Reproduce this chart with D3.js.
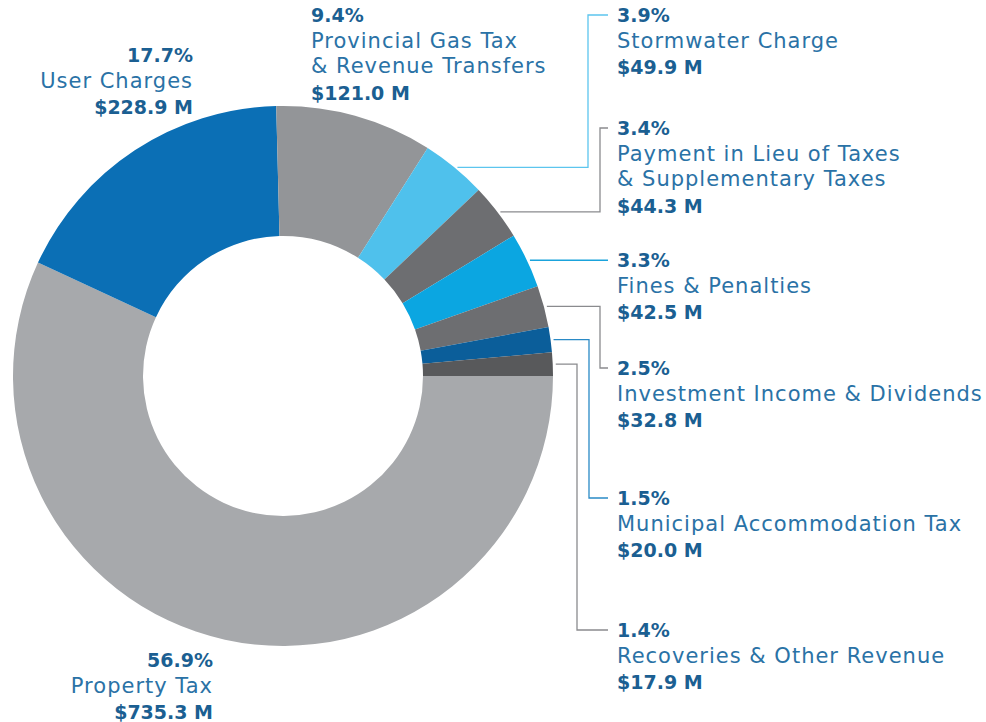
<!DOCTYPE html>
<html>
<head>
<meta charset="utf-8">
<script src="https://cdn.jsdelivr.net/npm/d3@7"></script>
<style>
  body { margin: 0; background: #fff; }
  svg text { font-family: "DejaVu Sans", sans-serif; }
  .pct, .amt { font-weight: bold; fill: #1b5f92; font-size: 19px; }
  .name { fill: #2a72a6; font-size: 21px; letter-spacing: 1px; }
</style>
</head>
<body>
<div id="chart"></div>
<script>
// revenue sources, in the order they are laid out clockwise from 3 o'clock
const categories = [
  ["Property Tax"],
  ["User Charges"],
  ["Provincial Gas Tax", "& Revenue Transfers"],
  ["Stormwater Charge"],
  ["Payment in Lieu of Taxes", "& Supplementary Taxes"],
  ["Fines & Penalties"],
  ["Investment Income & Dividends"],
  ["Municipal Accommodation Tax"],
  ["Recoveries & Other Revenue"]
];
const shares = [56.9, 17.7, 9.4, 3.9, 3.4, 3.3, 2.5, 1.5, 1.4];
const amounts = [735.3, 228.9, 121.0, 49.9, 44.3, 42.5, 32.8, 20.0, 17.9];
const colors = ["#a7a9ac", "#0b6fb5", "#939598", "#4fc1ec", "#6d6e71", "#0ba6e1", "#6d6e71", "#0b5e9a", "#58595b"];
const lineColors = [null, null, null, "#5cc5ee", "#8a8b8e", "#1aa3dc", "#8a8b8e", "#2a8ac6", "#8a8b8e"];

// label placement: anchor x, first baseline, text-anchor, leader elbow x
const labelPos = [
  {x: 213, y: 667, anchor: "end"},
  {x: 193, y: 62, anchor: "end"},
  {x: 311, y: 22, anchor: "start"},
  {x: 617, y: 22, anchor: "start", elbow: 588},
  {x: 617, y: 135, anchor: "start", elbow: 600},
  {x: 617, y: null, anchor: "start", elbow: null},
  {x: 617, y: 375, anchor: "start", elbow: 600},
  {x: 617, y: 505, anchor: "start", elbow: 589},
  {x: 617, y: 637, anchor: "start", elbow: 577}
];

const width = 986, height = 722;
const cx = 283, cy = 376;
const outerR = 270, innerR = 140;
const lineH = 25.5;

const svg = d3.select("#chart").append("svg")
  .attr("width", width).attr("height", height);

const data = shares.map((s, i) => ({name: categories[i], share: s, amount: amounts[i], i}));

const pie = d3.pie().value(d => d.share).sort(null)
  .startAngle(Math.PI / 2).endAngle(Math.PI / 2 + 2 * Math.PI);
const arc = d3.arc().innerRadius(innerR).outerRadius(outerR);
const arcs = pie(data);

const g = svg.append("g").attr("transform", `translate(${cx},${cy})`);
g.selectAll("path").data(arcs).join("path")
  .attr("d", arc)
  .attr("fill", d => colors[d.data.i]);

// leader lines for the thin slices on the right
arcs.forEach(a => {
  const i = a.data.i;
  if (!lineColors[i]) return;
  const mid = (a.startAngle + a.endAngle) / 2;
  const yMid = cy - outerR * Math.cos(mid);
  const xEdge = cx + Math.sqrt(outerR * outerR - (yMid - cy) ** 2) + 3;
  const p = labelPos[i];
  let path;
  if (p.elbow == null) {
    path = `M${xEdge},${yMid}H608`;
    p.y = yMid + 7;
  } else {
    path = `M${xEdge},${yMid}H${p.elbow}V${p.y - 7}H608`;
  }
  svg.append("path").attr("d", path)
    .attr("fill", "none").attr("stroke", lineColors[i]).attr("stroke-width", 1.3);
});

// labels
data.forEach(d => {
  const p = labelPos[d.i];
  const t = svg.append("text").attr("text-anchor", p.anchor);
  let y = p.y;
  t.append("tspan").attr("class", "pct").attr("x", p.x).attr("y", y).text(d.share.toFixed(1) + "%");
  d.name.forEach(n => {
    y += lineH;
    t.append("tspan").attr("class", "name").attr("x", p.x).attr("y", y).text(n);
  });
  y += lineH + 1;
  t.append("tspan").attr("class", "amt").attr("x", p.x).attr("y", y).text("$" + d.amount.toFixed(1) + " M");
});
</script>
</body>
</html>
